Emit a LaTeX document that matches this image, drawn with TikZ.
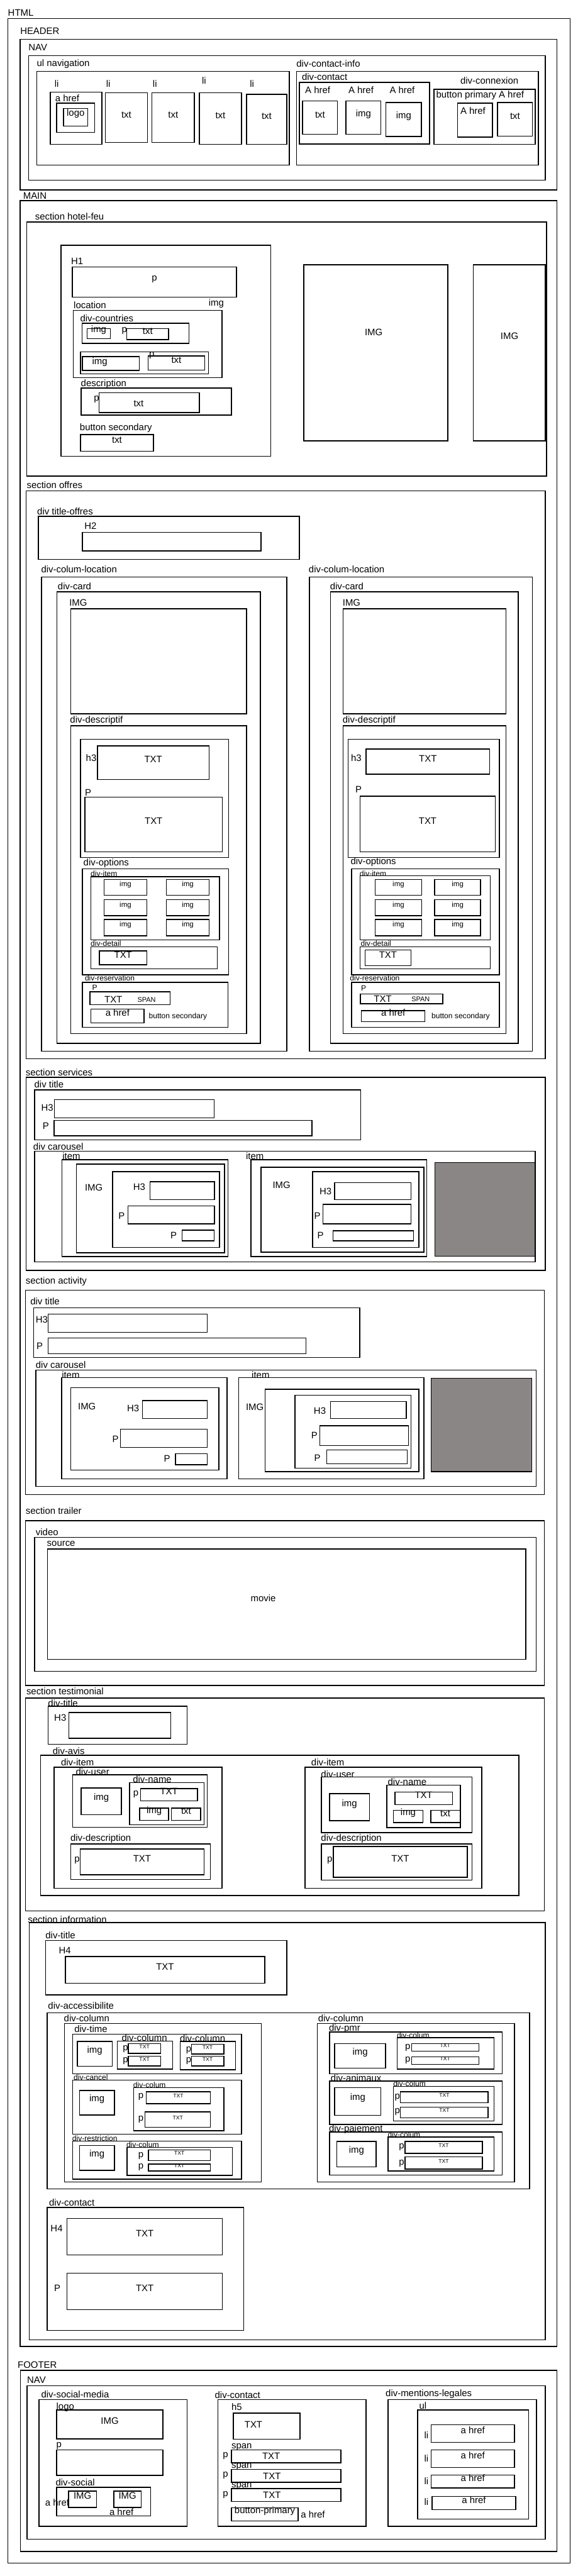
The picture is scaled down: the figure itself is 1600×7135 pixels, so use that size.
\documentclass[tikz,border=0pt]{standalone}
\usepackage{fontspec}
\setmainfont{Liberation Sans}
\usepackage{tikz}
\usetikzlibrary{fit}
\usepackage{xcolor}
\definecolor{carouselgrey}{RGB}{138,134,133}

\begin{document}
\begin{tikzpicture}[x=1pt, y=-1pt,
    box/.style={rectangle, draw, line width=2.5pt, inner sep=0pt,
                font=\fontsize{26}{30}\selectfont},
    small_box/.style={box, font=\fontsize{20}{24}\selectfont},
    tiny_box/.style={box, font=\fontsize{15}{18}\selectfont},
    tag/.style={anchor=west, inner sep=0pt, font=\fontsize{26}{30}\selectfont},
    small_tag/.style={tag, font=\fontsize{21}{25}\selectfont},
    word/.style={inner sep=0pt, font=\fontsize{26}{30}\selectfont},
    small_word/.style={word, font=\fontsize{19}{22}\selectfont},
    filler/.style={box, fill=carouselgrey}
  ]
  \useasboundingbox (0,0) rectangle (1600,7135);

  % HTML
  \node[tag] (html_tag) at (22,35) {HTML};
  \node[box, fit={(22,51) (1579,7099)}] (html) {};

  % Header
  \node[tag] (header_tag) at (56,86) {HEADER};
  \node[box, fit={(56,109) (1542,526)}] (header) {};
  \node[tag] (nav_tag) at (79,131) {NAV};
  \node[box, fit={(79,154) (1510,499)}] (nav) {};
  \node[tag] (ul_nav_tag) at (102,177) {ul navigation};
  \node[box, fit={(102,198) (801,457)}] (ul_nav) {};
  \node[tag] (li_1) at (151,231) {li};
  \node[tag] (li_2) at (294,231) {li};
  \node[tag] (li_3) at (423,231) {li};
  \node[tag] (li_4) at (559,223) {li};
  \node[tag] (li_5) at (692,231) {li};
  \node[box, fit={(139,255) (282,400)}] (li_logo) {};
  \node[tag] (ahref_tag) at (153,272) {a href};
  \node[box, fit={(157,286) (262,367)}] (ahref_logo) {};
  \node[box, fit={(176,300) (243,349)}] (logo) {logo};
  \node[box, fit={(292,257) (408,395)}] (li_txt_1) {txt};
  \node[box, fit={(421,257) (538,395)}] (li_txt_2) {txt};
  \node[box, fit={(552,257) (669,400)}] (li_txt_3) {txt};
  \node[box, fit={(683,261) (794,400)}] (li_txt_4) {txt};

  \node[tag] (contact_info_tag) at (821,176) {div-contact-info};
  \node[box, fit={(821,198) (1491,457)}] (contact_info) {};
  \node[tag] (contact_tag) at (836,212) {div-contact};
  \node[box, fit={(829,228) (1190,399)}] (contact) {};
  \node[tag] (contact_a_1) at (845,250) {A href};
  \node[tag] (contact_a_2) at (965,250) {A href};
  \node[tag] (contact_a_3) at (1079,250) {A href};
  \node[box, fit={(838,280) (935,372)}] (contact_txt) {txt};
  \node[box, fit={(958,280) (1055,372)}] (contact_img_1) {img};
  \node[box, fit={(1069,284) (1167,378)}] (contact_img_2) {img};
  \node[tag] (connexion_tag) at (1275,224) {div-connexion};
  \node[box, fit={(1202,247) (1482,400)}] (connexion) {};
  \node[tag] (btn_primary_tag) at (1208,264) {button primary A href};
  \node[box, fit={(1267,286) (1364,380)}] (connexion_a) {};
  \node[tag] (connexion_a_tag) at (1275,306) {A href};
  \node[box, fit={(1378,284) (1475,377)}] (connexion_txt) {txt};

  % Main
  \node[tag] (main_tag) at (64,542) {MAIN};
  \node[box, fit={(56,556) (1542,6499)}] (main) {};

  % Section hotel-feu
  \node[tag] (hotel_tag) at (97,600) {section hotel-feu};
  \node[box, fit={(74,615) (1514,1319)}] (hotel) {};
  \node[box, fit={(169,679) (750,1264)}] (hotel_text) {};
  \node[tag] (h1_tag) at (197,723) {H1};
  \node[box, fit={(200,739) (655,823)}] (h1_p) {p};
  \node[tag] (location_tag) at (204,845) {location};
  \node[tag] (location_img) at (578,840) {img};
  \node[box, fit={(203,860) (615,1046)}] (location) {};
  \node[tag] (countries_tag) at (222,881) {div-countries};
  \node[box, fit={(227,895) (523,951)}] (country_1) {};
  \node[box, fit={(241,910) (306,938)}] (country_1_img) {img};
  \node[tag] (country_1_p) at (337,916) {p};
  \node[box, fit={(351,910) (467,941)}] (country_1_txt) {txt};
  \node[box, fit={(223,975) (577,1036)}] (country_2) {};
  \node[box, fit={(228,988) (386,1026)}] (country_2_img) {};
  \node[tag] (country_2_img_tag) at (255,1002) {img};
  \node[tag] (country_2_p) at (413,985) {p};
  \node[box, fit={(410,986) (567,1025)}] (country_2_txt) {txt};
  \node[tag] (description_tag) at (224,1063) {description};
  \node[box, fit={(225,1075) (641,1150)}] (description) {};
  \node[tag] (description_p) at (260,1106) {p};
  \node[box, fit={(274,1088) (552,1143)}] (description_txt) {};
  \node[word] (description_word) at (384,1117) {txt};
  \node[tag] (btn_secondary_tag) at (221,1185) {button secondary};
  \node[box, fit={(223,1204) (425,1250)}] (btn_secondary) {txt};
  \node[box, fit={(841,733) (1240,1221)}] (hotel_img_1) {};
  \node[word] (hotel_img_1_word) at (1035,921) {IMG};
  \node[box, fit={(1311,733) (1510,1221)}] (hotel_img_2) {};
  \node[word] (hotel_img_2_word) at (1411,931) {IMG};

  % Section offres
  \node[tag] (offres_tag) at (74,1344) {section offres};
  \node[box, fit={(72,1360) (1510,2933)}] (offres) {};
  \node[tag] (title_offres_tag) at (103,1417) {div title-offres};
  \node[box, fit={(106,1430) (829,1549)}] (title_offres) {};
  \node[tag] (h2_tag) at (234,1457) {H2};
  \node[box, fit={(228,1475) (723,1526)}] (h2) {};

  % Offres: left column
  \node[tag] (col_loc_tag_1) at (114,1576) {div-colum-location};
  \node[box, fit={(115,1598) (794,2912)}] (col_loc_1) {};
  \node[tag] (card_tag_1) at (160,1624) {div-card};
  \node[box, fit={(158,1639) (721,2890)}] (card_1) {};
  \node[tag] (card_img_tag_1) at (192,1670) {IMG};
  \node[box, fit={(196,1686) (683,1977)}] (card_img_1) {};
  \node[tag] (descriptif_tag_1) at (194,1996) {div-descriptif};
  \node[box, fit={(196,2010) (683,2863)}] (descriptif_1) {};
  \node[box, fit={(223,2048) (633,2375)}] (descriptif_text_1) {};
  \node[tag] (h3_tag_1) at (238,2099) {h3};
  \node[box, fit={(270,2066) (579,2159)}] (h3_1) {TXT};
  \node[tag] (p_tag_1) at (235,2195) {P};
  \node[box, fit={(235,2208) (616,2359)}] (p_1) {TXT};
  \node[tag] (options_tag_1) at (231,2391) {div-options};
  \node[box, fit={(228,2406) (633,2700)}] (options_1) {};
  \node[small_tag] (item_tag_1) at (251,2419) {div-item};
  \node[box, fit={(252,2428) (608,2603)}] (item_1) {};
  \node[small_box, fit={(288,2436) (407,2480)}] (opt_img_1a) {img};
  \node[small_box, fit={(461,2436) (579,2480)}] (opt_img_1b) {img};
  \node[small_box, fit={(288,2492) (407,2536)}] (opt_img_1c) {img};
  \node[small_box, fit={(461,2492) (579,2536)}] (opt_img_1d) {img};
  \node[small_box, fit={(288,2547) (407,2592)}] (opt_img_1e) {img};
  \node[small_box, fit={(461,2547) (579,2592)}] (opt_img_1f) {img};
  \node[small_tag] (detail_tag_1) at (251,2614) {div-detail};
  \node[box, fit={(252,2622) (602,2683)}] (detail_1) {};
  \node[box, fit={(275,2634) (407,2672)}] (detail_txt_1) {TXT};
  \node[small_tag] (reservation_tag_1) at (235,2709) {div-reservation};
  \node[box, fit={(228,2721) (631,2845)}] (reservation_1) {};
  \node[small_tag] (price_p_1) at (255,2735) {P};
  \node[box, fit={(249,2747) (471,2783)}] (price_1) {};
  \node[word] (price_txt_1) at (314,2768) {TXT};
  \node[small_word] (price_span_1) at (406,2770) {SPAN};
  \node[box, fit={(252,2795) (399,2833)}] (book_1) {a href};
  \node[small_tag] (book_tag_1) at (412,2816) {button secondary};

  % Offres: right column
  \node[tag] (col_loc_tag_2) at (855,1576) {div-colum-location};
  \node[box, fit={(857,1598) (1475,2912)}] (col_loc_2) {};
  \node[tag] (card_tag_2) at (914,1624) {div-card};
  \node[box, fit={(915,1639) (1435,2890)}] (card_2) {};
  \node[tag] (card_img_tag_2) at (949,1670) {IMG};
  \node[box, fit={(950,1686) (1401,1977)}] (card_img_2) {};
  \node[tag] (descriptif_tag_2) at (949,1996) {div-descriptif};
  \node[box, fit={(950,2010) (1401,2863)}] (descriptif_2) {};
  \node[box, fit={(964,2048) (1383,2375)}] (descriptif_text_2) {};
  \node[tag] (h3_tag_2) at (972,2100) {h3};
  \node[box, fit={(1014,2075) (1356,2144)}] (h3_2) {TXT};
  \node[tag] (p_tag_2) at (984,2186) {P};
  \node[box, fit={(997,2205) (1372,2359)}] (p_2) {TXT};
  \node[tag] (options_tag_2) at (971,2387) {div-options};
  \node[box, fit={(974,2406) (1383,2700)}] (options_2) {};
  \node[small_tag] (item_tag_2) at (996,2419) {div-item};
  \node[box, fit={(997,2426) (1358,2603)}] (item_2) {};
  \node[small_box, fit={(1039,2436) (1168,2480)}] (opt_img_2a) {img};
  \node[small_box, fit={(1204,2436) (1331,2480)}] (opt_img_2b) {img};
  \node[small_box, fit={(1039,2492) (1168,2536)}] (opt_img_2c) {img};
  \node[small_box, fit={(1204,2492) (1331,2536)}] (opt_img_2d) {img};
  \node[small_box, fit={(1039,2547) (1168,2592)}] (opt_img_2e) {img};
  \node[small_box, fit={(1204,2547) (1331,2592)}] (opt_img_2f) {img};
  \node[small_tag] (detail_tag_2) at (999,2614) {div-detail};
  \node[box, fit={(997,2622) (1358,2683)}] (detail_2) {};
  \node[box, fit={(1011,2631) (1138,2675)}] (detail_txt_2) {TXT};
  \node[small_tag] (reservation_tag_2) at (969,2709) {div-reservation};
  \node[box, fit={(974,2721) (1383,2845)}] (reservation_2) {};
  \node[small_tag] (price_p_2) at (1000,2738) {P};
  \node[box, fit={(998,2753) (1226,2780)}] (price_2) {};
  \node[word] (price_txt_2) at (1060,2767) {TXT};
  \node[small_word] (price_span_2) at (1165,2767) {SPAN};
  \node[box, fit={(1001,2799) (1177,2830)}] (book_2) {a href};
  \node[small_tag] (book_tag_2) at (1195,2816) {button secondary};

  % Section services
  \node[tag] (services_tag) at (71,2970) {section services};
  \node[box, fit={(72,2984) (1510,3519)}] (services) {};
  \node[tag] (srv_title_tag) at (95,3003) {div title};
  \node[box, fit={(96,3019) (999,3157)}] (srv_title) {};
  \node[tag] (srv_h3_tag) at (114,3068) {H3};
  \node[box, fit={(151,3046) (593,3096)}] (srv_h3) {};
  \node[tag] (srv_p_tag) at (118,3118) {P};
  \node[box, fit={(150,3103) (864,3146)}] (srv_p) {};
  \node[tag] (srv_carousel_tag) at (92,3175) {div carousel};
  \node[box, fit={(96,3189) (1482,3495)}] (srv_carousel) {};
  \node[tag] (srv_item_tag_1) at (173,3202) {item};
  \node[tag] (srv_item_tag_2) at (681,3202) {item};
  \node[box, fit={(172,3212) (631,3480)}] (srv_item_1) {};
  \node[box, fit={(212,3224) (622,3470)}] (srv_img_1) {};
  \node[tag] (srv_img_tag_1) at (235,3290) {IMG};
  \node[box, fit={(312,3245) (608,3455)}] (srv_text_1) {};
  \node[tag] (srv_h3_tag_1) at (369,3287) {H3};
  \node[box, fit={(415,3273) (594,3323)}] (srv_h3_1) {};
  \node[tag] (srv_p_tag_1) at (328,3367) {P};
  \node[box, fit={(354,3340) (594,3390)}] (srv_p_1) {};
  \node[tag] (srv_q_tag_1) at (472,3421) {P};
  \node[box, fit={(504,3407) (593,3437)}] (srv_q_1) {};
  \node[box, fit={(695,3212) (1182,3480)}] (srv_item_2) {};
  \node[box, fit={(723,3233) (1174,3468)}] (srv_img_2) {};
  \node[tag] (srv_img_tag_2) at (755,3282) {IMG};
  \node[box, fit={(866,3245) (1160,3455)}] (srv_text_2) {};
  \node[tag] (srv_h3_tag_2) at (885,3300) {H3};
  \node[box, fit={(927,3276) (1138,3323)}] (srv_h3_2) {};
  \node[tag] (srv_p_tag_2) at (870,3367) {P};
  \node[box, fit={(894,3336) (1138,3390)}] (srv_p_2) {};
  \node[tag] (srv_q_tag_2) at (879,3421) {P};
  \node[box, fit={(922,3409) (1145,3437)}] (srv_q_2) {};
  \node[filler, fit={(1205,3220) (1482,3479)}] (srv_next) {};

  % Section activity
  \node[tag] (activity_tag) at (71,3550) {section activity};
  \node[box, fit={(71,3574) (1508,4140)}] (activity) {};
  \node[tag] (act_title_tag) at (84,3604) {div title};
  \node[box, fit={(93,3622) (996,3760)}] (act_title) {};
  \node[tag] (act_h3_tag) at (99,3655) {H3};
  \node[box, fit={(133,3640) (574,3690)}] (act_h3) {};
  \node[tag] (act_p_tag) at (101,3729) {P};
  \node[box, fit={(133,3706) (847,3749)}] (act_p) {};
  \node[tag] (act_carousel_tag) at (99,3781) {div carousel};
  \node[box, fit={(99,3795) (1485,4117)}] (act_carousel) {};
  \node[tag] (act_item_tag_1) at (171,3808) {item};
  \node[tag] (act_item_tag_2) at (697,3808) {item};
  \node[box, fit={(171,3816) (629,4096)}] (act_item_1) {};
  \node[box, fit={(196,3844) (606,4072)}] (act_img_1) {};
  \node[tag] (act_img_tag_1) at (216,3895) {IMG};
  \node[tag] (act_h3_tag_1) at (352,3901) {H3};
  \node[box, fit={(395,3879) (574,3929)}] (act_h3_1) {};
  \node[tag] (act_p_tag_1) at (311,3986) {P};
  \node[box, fit={(334,3959) (574,4009)}] (act_p_1) {};
  \node[tag] (act_q_tag_1) at (454,4040) {P};
  \node[box, fit={(486,4026) (574,4057)}] (act_q_1) {};
  \node[box, fit={(661,3816) (1174,4096)}] (act_item_2) {};
  \node[tag] (act_img_tag_2) at (681,3897) {IMG};
  \node[box, fit={(734,3848) (1160,4076)}] (act_img_2) {};
  \node[box, fit={(817,3864) (1138,4067)}] (act_text_2) {};
  \node[tag] (act_h3_tag_2) at (869,3907) {H3};
  \node[box, fit={(915,3882) (1125,3929)}] (act_h3_2) {};
  \node[tag] (act_p_tag_2) at (862,3976) {P};
  \node[box, fit={(886,3949) (1131,4004)}] (act_p_2) {};
  \node[tag] (act_q_tag_2) at (870,4039) {P};
  \node[box, fit={(905,4016) (1128,4054)}] (act_q_2) {};
  \node[filler, fit={(1194,3817) (1473,4076)}] (act_next) {};

  % Section trailer
  \node[tag] (trailer_tag) at (71,4184) {section trailer};
  \node[box, fit={(71,4212) (1508,4668)}] (trailer) {};
  \node[tag] (video_tag) at (99,4243) {video};
  \node[box, fit={(96,4258) (1485,4629)}] (video) {};
  \node[tag] (source_tag) at (130,4276) {source};
  \node[box, fit={(132,4290) (1456,4596)}] (source) {};
  \node[word] (movie) at (729,4426) {movie};

  % Section testimonial
  \node[tag] (testimonial_tag) at (73,4685) {section testimonial};
  \node[box, fit={(71,4703) (1508,5293)}] (testimonial) {};
  \node[tag] (tst_title_tag) at (133,4718) {div-title};
  \node[box, fit={(133,4726) (518,4831)}] (tst_title) {};
  \node[tag] (tst_h3_tag) at (150,4758) {H3};
  \node[box, fit={(191,4743) (473,4815)}] (tst_h3) {};
  \node[tag] (avis_tag) at (146,4849) {div-avis};
  \node[box, fit={(112,4862) (1437,5250)}] (avis) {};
  \node[tag] (avis_item_tag_1) at (169,4882) {div-item};
  \node[tag] (avis_item_tag_2) at (862,4882) {div-item};
  \node[box, fit={(150,4895) (615,5230)}] (avis_item_1) {};
  \node[box, fit={(845,4895) (1334,5230)}] (avis_item_2) {};
  \node[tag] (user_tag_1) at (210,4907) {div-user};
  \node[box, fit={(201,4916) (574,5061)}] (user_1) {};
  \node[box, fit={(225,4952) (336,5026)}] (user_img_1) {img};
  \node[tag] (name_tag_1) at (368,4929) {div-name};
  \node[box, fit={(359,4937) (565,5054)}] (name_1) {};
  \node[tag] (name_p_1) at (369,4970) {p};
  \node[box, fit={(389,4954) (547,4988)}] (name_txt_1) {TXT};
  \node[box, fit={(387,5008) (467,5042)}] (name_img_1) {img};
  \node[box, fit={(475,5008) (556,5042)}] (name_small_1) {txt};
  \node[tag] (user_tag_2) at (889,4914) {div-user};
  \node[box, fit={(890,4922) (1307,5076)}] (user_2) {};
  \node[box, fit={(913,4968) (1023,5043)}] (user_img_2) {img};
  \node[tag] (name_tag_2) at (1074,4936) {div-name};
  \node[box, fit={(1071,4944) (1275,5062)}] (name_2) {};
  \node[box, fit={(1094,4964) (1253,4998)}] (name_txt_2) {TXT};
  \node[box, fit={(1090,5014) (1171,5048)}] (name_img_2) {img};
  \node[box, fit={(1193,5014) (1274,5048)}] (name_small_2) {txt};
  \node[tag] (avis_desc_tag_1) at (195,5093) {div-description};
  \node[box, fit={(196,5107) (583,5206)}] (avis_desc_1) {};
  \node[tag] (avis_desc_p_1) at (206,5152) {p};
  \node[box, fit={(222,5121) (565,5193)}] (avis_desc_txt_1) {TXT};
  \node[tag] (avis_desc_tag_2) at (889,5093) {div-description};
  \node[box, fit={(890,5107) (1307,5207)}] (avis_desc_2) {};
  \node[tag] (avis_desc_p_2) at (906,5153) {p};
  \node[box, fit={(923,5114) (1294,5200)}] (avis_desc_txt_2) {TXT};

  % Section information
  \node[tag] (information_tag) at (77,5316) {section information};
  \node[box, fit={(81,5325) (1510,6481)}] (information) {};
  \node[tag] (info_title_tag) at (126,5360) {div-title};
  \node[box, fit={(126,5375) (794,5525)}] (info_title) {};
  \node[tag] (info_h4_tag) at (163,5402) {H4};
  \node[box, fit={(181,5419) (733,5493)}] (info_h4) {TXT};
  \node[tag] (access_tag) at (133,5555) {div-accessibilite};
  \node[box, fit={(131,5575) (1467,6063)}] (access) {};
  \node[tag] (access_col_tag_1) at (177,5590) {div-column};
  \node[box, fit={(179,5605) (724,6044)}] (access_col_1) {};
  \node[tag] (access_col_tag_2) at (881,5590) {div-column};
  \node[box, fit={(879,5605) (1425,6044)}] (access_col_2) {};

  % Information: left column
  \node[tag] (time_tag) at (206,5619) {div-time};
  \node[box, fit={(201,5634) (669,5744)}] (time) {};
  \node[box, fit={(214,5654) (311,5723)}] (time_img) {img};
  \node[tag] (time_col_tag_1) at (337,5644) {div-column};
  \node[box, fit={(325,5653) (478,5731)}] (time_col_1) {};
  \node[tag] (time_p_1a) at (340,5676) {p};
  \node[tag] (time_p_1b) at (340,5708) {p};
  \node[tiny_box, fit={(355,5660) (445,5687)}] (time_txt_1a) {TXT};
  \node[tiny_box, fit={(355,5695) (445,5722)}] (time_txt_1b) {TXT};
  \node[tag] (time_col_tag_2) at (498,5645) {div-column};
  \node[box, fit={(499,5654) (652,5733)}] (time_col_2) {};
  \node[tag] (time_p_2a) at (515,5679) {p};
  \node[tag] (time_p_2b) at (515,5709) {p};
  \node[tiny_box, fit={(530,5662) (620,5689)}] (time_txt_2a) {TXT};
  \node[tiny_box, fit={(530,5695) (620,5722)}] (time_txt_2b) {TXT};
  \node[small_tag] (cancel_tag) at (204,5754) {div-cancel};
  \node[box, fit={(201,5761) (669,5911)}] (cancel) {};
  \node[box, fit={(220,5790) (317,5858)}] (cancel_img) {img};
  \node[small_tag] (cancel_col_tag) at (369,5775) {div-colum};
  \node[box, fit={(370,5782) (620,5902)}] (cancel_col) {};
  \node[tag] (cancel_p_a) at (383,5808) {p};
  \node[tag] (cancel_p_b) at (383,5871) {p};
  \node[tiny_box, fit={(405,5794) (583,5827)}] (cancel_txt_a) {TXT};
  \node[tiny_box, fit={(402,5849) (583,5892)}] (cancel_txt_b) {TXT};
  \node[small_tag] (restriction_tag) at (200,5922) {div-restriction};
  \node[box, fit={(201,5930) (669,6036)}] (restriction) {};
  \node[box, fit={(220,5943) (317,6011)}] (restriction_img) {img};
  \node[small_tag] (restriction_col_tag) at (350,5941) {div-colum};
  \node[box, fit={(352,5948) (644,6025)}] (restriction_col) {};
  \node[tag] (restriction_p_a) at (383,5972) {p};
  \node[tag] (restriction_p_b) at (383,6003) {p};
  \node[tiny_box, fit={(411,5955) (583,5984)}] (restriction_txt_a) {TXT};
  \node[tiny_box, fit={(411,5994) (583,6013)}] (restriction_txt_b) {TXT};

  % Information: right column
  \node[tag] (pmr_tag) at (911,5619) {div-pmr};
  \node[box, fit={(913,5628) (1391,5744)}] (pmr) {};
  \node[box, fit={(927,5660) (1068,5728)}] (pmr_img) {img};
  \node[small_tag] (pmr_col_tag) at (1099,5638) {div-colum};
  \node[box, fit={(1100,5644) (1368,5731)}] (pmr_col) {};
  \node[tag] (pmr_p_a) at (1122,5671) {p};
  \node[tag] (pmr_p_b) at (1122,5707) {p};
  \node[tiny_box, fit={(1140,5660) (1326,5681)}] (pmr_txt_a) {TXT};
  \node[tiny_box, fit={(1140,5697) (1326,5718)}] (pmr_txt_b) {TXT};
  \node[tag] (animaux_tag) at (916,5755) {div-animaux};
  \node[box, fit={(913,5764) (1391,5884)}] (animaux) {};
  \node[box, fit={(927,5782) (1055,5859)}] (animaux_img) {img};
  \node[small_tag] (animaux_col_tag) at (1089,5772) {div-colum};
  \node[box, fit={(1090,5779) (1368,5875)}] (animaux_col) {};
  \node[tag] (animaux_p_a) at (1093,5809) {p};
  \node[tag] (animaux_p_b) at (1093,5850) {p};
  \node[tiny_box, fit={(1109,5794) (1352,5824)}] (animaux_txt_a) {TXT};
  \node[tiny_box, fit={(1109,5836) (1352,5866)}] (animaux_txt_b) {TXT};
  \node[tag] (paiement_tag) at (911,5897) {div-paiement};
  \node[box, fit={(913,5905) (1391,6024)}] (paiement) {};
  \node[box, fit={(933,5931) (1042,6002)}] (paiement_img) {img};
  \node[small_tag] (paiement_col_tag) at (1074,5913) {div-colum};
  \node[box, fit={(1075,5919) (1368,6013)}] (paiement_col) {};
  \node[tag] (paiement_p_a) at (1105,5947) {p};
  \node[tag] (paiement_p_b) at (1105,5992) {p};
  \node[tiny_box, fit={(1122,5931) (1336,5964)}] (paiement_txt_a) {TXT};
  \node[tiny_box, fit={(1122,5974) (1336,6008)}] (paiement_txt_b) {TXT};

  % Information: contact
  \node[tag] (info_contact_tag) at (136,6100) {div-contact};
  \node[box, fit={(131,6114) (675,6455)}] (info_contact) {};
  \node[tag] (info_contact_h4) at (140,6173) {H4};
  \node[box, fit={(186,6145) (616,6246)}] (info_contact_txt_a) {TXT};
  \node[tag] (info_contact_p) at (150,6338) {P};
  \node[box, fit={(186,6296) (616,6397)}] (info_contact_txt_b) {TXT};

  % Footer
  \node[tag] (footer_tag) at (49,6550) {FOOTER};
  \node[box, fit={(57,6565) (1542,7067)}] (footer) {};
  \node[tag] (foot_nav_tag) at (75,6592) {NAV};
  \node[box, fit={(75,6608) (1510,7033)}] (foot_nav) {};
  \node[tag] (social_media_tag) at (114,6631) {div-social-media};
  \node[box, fit={(108,6646) (518,6997)}] (social_media) {};
  \node[tag] (foot_logo_tag) at (156,6667) {logo};
  \node[box, fit={(157,6675) (451,6755)}] (foot_logo) {IMG};
  \node[tag] (foot_p_tag) at (156,6774) {p};
  \node[box, fit={(157,6786) (451,6856)}] (foot_p) {};
  \node[tag] (social_tag) at (154,6875) {div-social};
  \node[box, fit={(157,6889) (417,6969)}] (social) {};
  \node[box, fit={(190,6900) (267,6945)}] (social_img_1) {IMG};
  \node[box, fit={(315,6900) (391,6945)}] (social_img_2) {IMG};
  \node[tag] (social_a_1) at (125,6932) {a href};
  \node[tag] (social_a_2) at (303,6957) {a href};

  \node[tag] (foot_contact_tag) at (595,6633) {div-contact};
  \node[box, fit={(604,6646) (1014,6997)}] (foot_contact) {};
  \node[tag] (h5_tag) at (641,6667) {h5};
  \node[box, fit={(646,6684) (831,6756)}] (h5) {};
  \node[word] (h5_word) at (702,6716) {TXT};
  \node[tag] (span_tag_1) at (641,6778) {span};
  \node[tag] (span_tag_2) at (641,6832) {span};
  \node[tag] (span_tag_3) at (641,6886) {span};
  \node[tag] (foot_p_1) at (617,6802) {p};
  \node[tag] (foot_p_2) at (617,6856) {p};
  \node[tag] (foot_p_3) at (617,6910) {p};
  \node[box, fit={(641,6786) (944,6821)}] (span_1) {};
  \node[word] (span_word_1) at (751,6803) {TXT};
  \node[box, fit={(641,6840) (944,6875)}] (span_2) {};
  \node[word] (span_word_2) at (753,6858) {TXT};
  \node[box, fit={(641,6893) (944,6928)}] (span_3) {};
  \node[word] (span_word_3) at (753,6911) {TXT};
  \node[box, fit={(641,6946) (826,6982)}] (foot_button) {button-primary};
  \node[tag] (foot_button_a) at (833,6964) {a href};

  \node[tag] (mentions_tag) at (1068,6631) {div-mentions-legales};
  \node[box, fit={(1075,6646) (1486,6997)}] (mentions) {};
  \node[tag] (foot_ul_tag) at (1161,6663) {ul};
  \node[box, fit={(1157,6675) (1464,6977)}] (foot_ul) {};
  \node[tag] (foot_li_1) at (1175,6745) {li};
  \node[tag] (foot_li_2) at (1175,6810) {li};
  \node[tag] (foot_li_3) at (1175,6872) {li};
  \node[tag] (foot_li_4) at (1175,6930) {li};
  \node[box, fit={(1194,6716) (1425,6765)}] (foot_a_1) {a href};
  \node[box, fit={(1194,6786) (1425,6834)}] (foot_a_2) {a href};
  \node[box, fit={(1194,6855) (1425,6891)}] (foot_a_3) {a href};
  \node[box, fit={(1197,6915) (1428,6951)}] (foot_a_4) {a href};

\end{tikzpicture}
\end{document}
